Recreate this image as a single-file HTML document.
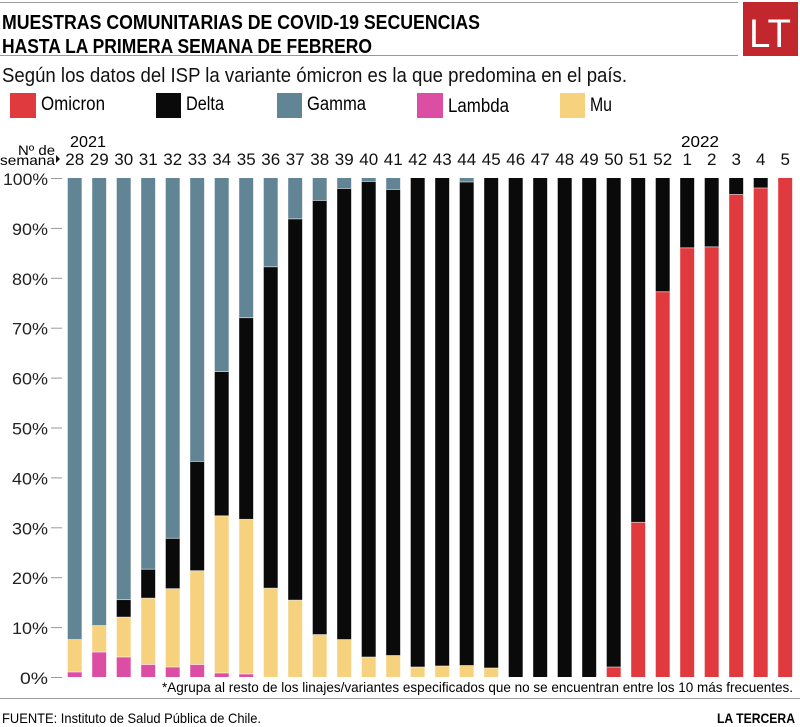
<!DOCTYPE html>
<html><head><meta charset="utf-8"><style>
html,body{margin:0;padding:0;background:#fff;}
svg{display:block;font-family:"Liberation Sans",sans-serif;}
</style></head><body>
<svg id="s" width="800" height="727" viewBox="0 0 800 727" xmlns="http://www.w3.org/2000/svg">
<rect width="800" height="727" fill="#fff"/>
<line x1="0" y1="2.5" x2="738" y2="2.5" stroke="#999" stroke-width="1"/>
<line x1="0" y1="55.5" x2="738" y2="55.5" stroke="#999" stroke-width="1"/>
<text x="2" y="29" font-size="20" font-weight="bold" textLength="478" lengthAdjust="spacingAndGlyphs">MUESTRAS COMUNITARIAS DE COVID-19 SECUENCIAS</text>
<text x="2" y="53" font-size="20" font-weight="bold" textLength="370" lengthAdjust="spacingAndGlyphs">HASTA LA PRIMERA SEMANA DE FEBRERO</text>
<rect x="743" y="2" width="55" height="54" fill="#c1272d"/>
<text x="770" y="47" font-size="40" fill="#fff" text-anchor="middle" textLength="42" lengthAdjust="spacingAndGlyphs">LT</text>
<text x="2" y="82" font-size="20" fill="#111" textLength="625" lengthAdjust="spacingAndGlyphs">Según los datos del ISP la variante ómicron es la que predomina en el país.</text>
<rect x="10" y="93" width="26" height="25" fill="#e03a3e"/><text x="41" y="110" font-size="19" textLength="64" lengthAdjust="spacingAndGlyphs">Omicron</text>
<rect x="156" y="93" width="25" height="25" fill="#0a0a0a"/><text x="186" y="110" font-size="19" textLength="38" lengthAdjust="spacingAndGlyphs">Delta</text>
<rect x="277" y="93" width="25" height="25" fill="#628595"/><text x="307" y="110" font-size="19" textLength="59" lengthAdjust="spacingAndGlyphs">Gamma</text>
<rect x="417" y="93" width="26" height="25" fill="#db4ea4"/><text x="448" y="112" font-size="19" textLength="61" lengthAdjust="spacingAndGlyphs">Lambda</text>
<rect x="560" y="93" width="25" height="25" fill="#f7d27e"/><text x="590" y="111" font-size="19" textLength="22" lengthAdjust="spacingAndGlyphs">Mu</text>
<text x="70" y="147" font-size="16" textLength="36" lengthAdjust="spacingAndGlyphs">2021</text>
<text x="681" y="147" font-size="16" textLength="38" lengthAdjust="spacingAndGlyphs">2022</text>
<text x="55" y="155" font-size="14" text-anchor="end" textLength="37" lengthAdjust="spacingAndGlyphs">Nº de</text>
<text x="55" y="165" font-size="14" text-anchor="end" textLength="55" lengthAdjust="spacingAndGlyphs">semana</text>
<polygon points="56,155 60,159 56,163" fill="#111"/>
<g id="g"></g>
<text x="793" y="692" font-size="14" text-anchor="end" textLength="631" lengthAdjust="spacingAndGlyphs">*Agrupa al resto de los linajes/variantes especificados que no se encuentran entre los 10 más frecuentes.</text>
<line x1="0" y1="698.5" x2="800" y2="698.5" stroke="#999" stroke-width="1"/>
<text x="2" y="723" font-size="14" textLength="259" lengthAdjust="spacingAndGlyphs">FUENTE: Instituto de Salud Pública de Chile.</text>
<text x="795" y="723" font-size="14" font-weight="bold" text-anchor="end" textLength="78" lengthAdjust="spacingAndGlyphs">LA TERCERA</text>
</svg>
<script>
var C={l:"#db4ea4",m:"#f7d27e",o:"#e03a3e",d:"#0a0a0a",g:"#628595"};
var D=[
["28",[["l",1],["m",7.5],["g",100]]],
["29",[["l",5],["m",10.3],["g",100]]],
["30",[["l",4],["m",12],["d",15.5],["g",100]]],
["31",[["l",2.5],["m",15.8],["d",21.6],["g",100]]],
["32",[["l",2],["m",17.7],["d",27.8],["g",100]]],
["33",[["l",2.5],["m",21.3],["d",43.2],["g",100]]],
["34",[["l",0.8],["m",32.3],["d",61.2],["g",100]]],
["35",[["l",0.6],["m",31.6],["d",72],["g",100]]],
["36",[["m",17.8],["d",82.2],["g",100]]],
["37",[["m",15.4],["d",91.8],["g",100]]],
["38",[["m",8.5],["d",95.5],["g",100]]],
["39",[["m",7.5],["d",97.9],["g",100]]],
["40",[["m",4],["d",99.3],["g",100]]],
["41",[["m",4.3],["d",97.7],["g",100]]],
["42",[["m",2],["d",100]]],
["43",[["m",2.2],["d",100]]],
["44",[["m",2.3],["d",99.2],["g",100]]],
["45",[["m",1.8],["d",100]]],
["46",[["d",100]]],["47",[["d",100]]],["48",[["d",100]]],["49",[["d",100]]],
["50",[["o",2],["d",100]]],
["51",[["o",31],["d",100]]],
["52",[["o",77.2],["d",100]]],
["1",[["o",86],["d",100]]],
["2",[["o",86.2],["d",100]]],
["3",[["o",96.7],["d",100]]],
["4",[["o",98],["d",100]]],
["5",[["o",100]]]];
var ns="http://www.w3.org/2000/svg",g=document.getElementById("g");
function el(t,a,txt){var e=document.createElementNS(ns,t);for(var k in a)e.setAttribute(k,a[k]);if(txt!=null)e.textContent=txt;g.appendChild(e);return e;}
function Y(p){return 677-p*4.99;}
for(var i=0;i<=10;i++){var y=Y(i*10);
el("line",{x1:51,y1:y+0.5,x2:62,y2:y+0.5,stroke:"#999","stroke-width":1});
el("text",{x:48,y:y+7,"font-size":17,"text-anchor":"end",fill:"#222",textLength:(i==10?45:(i==0?28:36)),lengthAdjust:"spacingAndGlyphs"},(i*10)+"%");}
D.forEach(function(b,i){var x=67.7+i*24.5,prev=0;
el("text",{x:x+7,y:165,"font-size":17,"text-anchor":"middle",fill:"#111"},b[0]);
b[1].forEach(function(s){var y1=Y(s[1]),y0=Y(prev);
el("rect",{x:x,y:y1,width:14,height:Math.max(0,y0-y1),fill:C[s[0]]});
if(prev>0)el("line",{x1:x,y1:y0,x2:x+14,y2:y0,stroke:"#fff","stroke-width":0.8,"stroke-opacity":0.7});
prev=s[1];});});
</script>
</body></html>
